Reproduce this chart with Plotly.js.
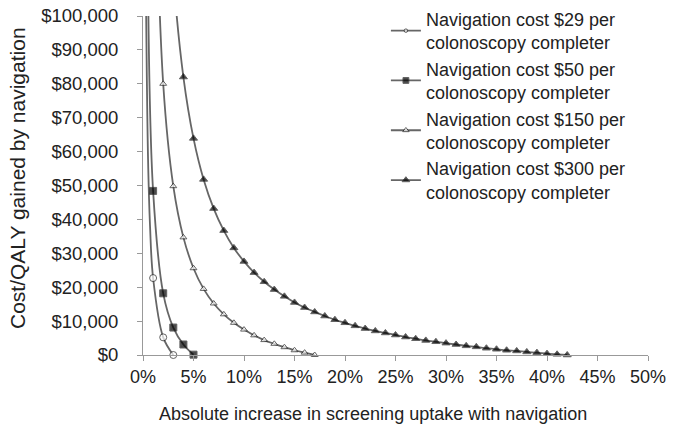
<!DOCTYPE html>
<html>
<head>
<meta charset="utf-8">
<script src="https://cdn.plot.ly/plotly-3.0.1.min.js"></script>
<style>
  html, body { margin: 0; padding: 0; background: #fff; }
  #chart { width: 675px; height: 436px; }
</style>
</head>
<body>
<div id="chart"></div>
<script>
// uptake increase (%) and cost per QALY
const uptake29 = [0.3, 0.5, 0.7, 1, 2, 3];
const cost29 = [104500, 57800, 37800, 22700, 5200, 0];

const uptake50 = [0.5, 1, 2, 3, 4, 5];
const cost50 = [108800, 48400, 18200, 8100, 3100, 100];

const uptake150 = [1, 2, 3, 4, 5, 6, 7, 8, 9, 10, 11, 12, 13, 14, 15, 16, 17];
const cost150 = [170600, 80000, 49800, 34700, 25600, 19500, 15200, 12000, 9500,
  7500, 5800, 4400, 3300, 2300, 1400, 700, 0];

const uptake300 = [2, 3, 4, 5, 6, 7, 8, 9, 10, 11, 12, 13, 14, 15, 16, 17, 18, 19, 20, 21,
  22, 23, 24, 25, 26, 27, 28, 29, 30, 31, 32, 33, 34, 35, 36, 37, 38, 39, 40, 41, 42];
const cost300 = [172600, 112200, 82000, 63900, 51800, 43200, 36700, 31600, 27600, 24300,
  21600, 19300, 17300, 15500, 14000, 12700, 11500, 10400, 9500, 8600,
  7800, 7100, 6500, 5900, 5300, 4800, 4300, 3900, 3500, 3100,
  2700, 2400, 2000, 1700, 1400, 1200, 900, 700, 400, 200, 0];

const seriesNames = [
  'Navigation cost $29 per<br>colonoscopy completer',
  'Navigation cost $50 per<br>colonoscopy completer',
  'Navigation cost $150 per<br>colonoscopy completer',
  'Navigation cost $300 per<br>colonoscopy completer'
];

const xTicks = [0, 5, 10, 15, 20, 25, 30, 35, 40, 45, 50];
const xTitle = 'Absolute increase in screening uptake with navigation';
const yTitle = 'Cost/QALY gained by navigation';

const Y_MAX = 100000;
const FONT = '"Liberation Sans", Arial, sans-serif';

// markers only on whole-percent points inside the plotted range
function sizes(xs, ys, s) {
  return xs.map((x, i) => (Number.isInteger(x) && ys[i] <= Y_MAX) ? s : 0);
}

function trace(xs, ys, name, symbol, fill, s) {
  return {
    type: 'scatter', mode: 'lines+markers', name: name,
    x: xs, y: ys, cliponaxis: false,
    line: { color: '#666', width: 1.8, shape: 'spline', smoothing: 1 },
    marker: { symbol: symbol, size: sizes(xs, ys, s), color: fill,
      line: { color: '#222', width: 1 } }
  };
}

const data = [
  trace(uptake29, cost29, seriesNames[0], 'circle', '#ffffff', 7),
  trace(uptake50, cost50, seriesNames[1], 'square', '#000000', 7),
  trace(uptake150, cost150, seriesNames[2], 'triangle-up', '#ffffff', 6),
  trace(uptake300, cost300, seriesNames[3], 'triangle-up', '#000000', 7)
];

const layout = {
  width: 675, height: 436,
  margin: { l: 143, r: 27, t: 16, b: 81, autoexpand: false },
  paper_bgcolor: '#fff', plot_bgcolor: '#fff',
  font: { family: FONT, size: 18, color: '#222' },
  showlegend: true,
  legend: {
    x: 0.481, xanchor: 'left', y: 1.045, yanchor: 'top',
    bgcolor: 'rgba(0,0,0,0)', font: { family: FONT, size: 18, color: '#222' },
    tracegroupgap: 0
  },
  xaxis: {
    range: [0, 50], tickvals: xTicks, ticktext: xTicks.map(v => v + '%'),
    showgrid: false, zeroline: false,
    showline: true, linecolor: '#999', linewidth: 1,
    ticks: 'outside', ticklen: 5, tickcolor: '#999',
    ticklabelstandoff: 0,
    tickfont: { family: FONT, size: 18, color: '#222' }
  },
  yaxis: {
    range: [0, Y_MAX], dtick: 10000, tickprefix: '$', tickformat: ',d',
    showgrid: false, zeroline: false,
    showline: true, linecolor: '#999', linewidth: 1,
    ticks: 'outside', ticklen: 5, tickcolor: '#999',
    ticklabelstandoff: 15,
    tickfont: { family: FONT, size: 18.5, color: '#222' }
  },
  annotations: [
    { text: xTitle, xref: 'paper', yref: 'paper',
      xanchor: 'center', yanchor: 'middle', showarrow: false,
      font: { family: FONT, size: 18, color: '#222' } },
    { text: yTitle, xref: 'paper', yref: 'paper',
      xanchor: 'center', yanchor: 'middle', showarrow: false, textangle: -90,
      font: { family: FONT, size: 21, color: '#222' } }
  ]
};
// x title centre sits near x=373px, y title centre near x=17px
layout.annotations[0].x = (373 - 143) / 505;
layout.annotations[0].y = (355 - 414) / 339;
layout.annotations[1].x = (17 - 143) / 505;
layout.annotations[1].y = (355 - 178) / 339;

Plotly.newPlot('chart', data, layout, { displayModeBar: false, staticPlot: true });
</script>
</body>
</html>
